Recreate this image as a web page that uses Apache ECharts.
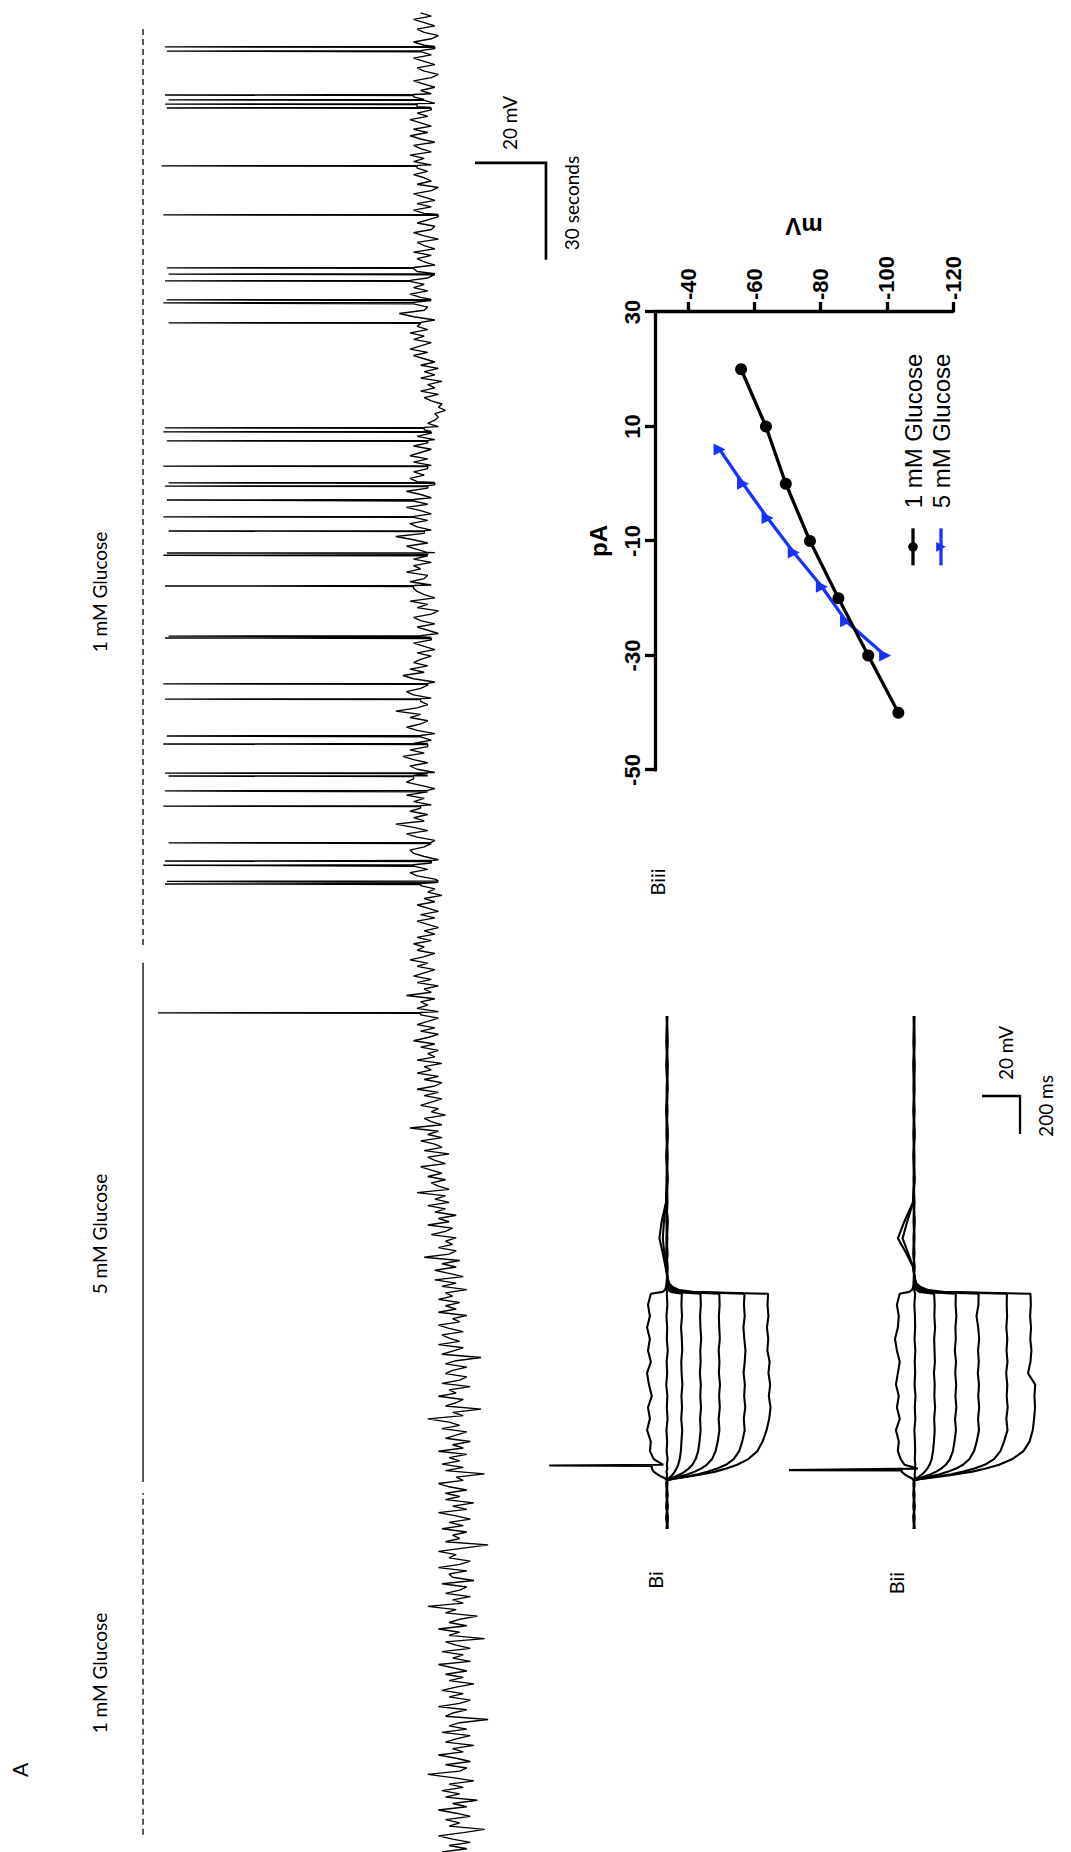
<!DOCTYPE html>
<html><head><meta charset="utf-8">
<script src="https://cdn.jsdelivr.net/npm/echarts@6/dist/echarts.min.js"></script>
<style>
html,body{margin:0;padding:0;background:#fff;width:1071px;height:1852px;overflow:hidden}
#rot{position:absolute;left:0;top:0;width:1852px;height:1071px;transform-origin:0 0;transform:translate(0,1852px) rotate(-90deg)}
#chart{width:1852px;height:1071px;background:#fff}
</style></head><body>
<div id="rot"><div id="chart"></div></div>
<script>
// ---------- Panel A: membrane potential (mV), one sample per second ----------
const sampleIntervalS = 1;
const traceMv = [
-59,-66,-61,-67,-62,-58,-65,-71,-61,-64, -60,-67,-63,-58,-66,-62,-69,-60,-64,-59,
-65,-61,-68,-62,-55,-64,-66,-60,-67,-63, -58,-65,-62,-68,-60,-63,-67,-59,-66,-61,
-64,-72,-60,-62,-66,-58,-64,-67,-61,-65, -59,-63,-68,-61,-65,-60,-66,-62,-58,-67,
-62,-65,-59,-67,-63,-60,-71,-61,-64,-58, -66,-61,-64,-69,-60,-63,-55,-65,-62,-67,
-60,-64,-66,-59,-68,-62,-61,-66,-58,-64, -67,-61,-63,-58,-65,-72,-60,-64,-62,-66,
-59,-65,-61,-67,-63,-58,-66,-62,-68,-60, -64,-60,-66,-61,-58,-65,-63,-71,-60,-65,
-59,-64,-61,-66,-58,-65,-62,-67,-60,-63, -66,-59,-64,-61,-55,-65,-62,-70,-60,-63,
-65,-58,-63,-61,-67,-59,-64,-66,-60,-62, -66,-60,-63,-70,-59,-62,-65,-58,-64,-61,
-59,-65,-61,-58,-64,-62,-66,-58,-63,-60, -64,-58,-62,-60,-66,-59,-63,-57,-65,-61,
-57,-63,-59,-64,-54,-61,-63,-58,-62,-60, -63,-56,-60,-62,-55,-61,-58,-63,-57,-60,
-55,-61,-57,-60,-52,-61,-58,-56,-60,-55, -59,-56,-53,-60,-57,-55,-61,-54,-59,-57,
-53,-59,-55,-58,-50,-59,-56,-54,-60,-56, -58,-53,-56,-59,-54,-58,-52,-57,-59,-54,
-58,-52,-56,-54,-59,-52,-57,-55,-58,-53, -57,-51,-55,-58,-53,-57,-52,-55,-58,-53,
-58,-52,-55,-53,-57,-49,-56,-54,-58,-52, -56,-51,-54,-57,-52,-55,-50,-54,-57,-52,
-54,-51,-56,-52,-57,-54,-58,-55,-52,-57, -53,-58,-55,-52,-57,-54,-59,-55,-57,-53,
-58,-57,-52,-50,-55,-51,-56,-58,-54,-51, -50,-54,-56,-57,-52,-49,-55,-51,-46,-54,
-51,-55,-50,-53,-56,-51,-54,-49,-55,-57, -53,-49,-51,-55,-57,-52,-50,-55,-51,-48,
-54,-50,-55,-51,-56,-53,-57,-52,-49,-53, -55,-50,-53,-46,-52,-55,-53,-56,-51,-49,
-53,-55,-57,-51,-48,-54,-50,-55,-51,-53, -56,-52,-57,-54,-51,-56,-53,-58,-55,-52,
-57,-53,-51,-56,-58,-52,-55,-50,-57,-54, -52,-51,-56,-50,-54,-55,-49,-53,-51,-56,
-51,-55,-57,-52,-49,-55,-51,-46,-54,-56, -52,-50,-55,-51,-56,-53,-49,-55,-51,-56,
-53,-49,-55,-57,-52,-50,-54,-51,-55,-56, -51,-55,-50,-53,-56,-51,-55,-57,-52,-56,
-54,-58,-55,-57,-58,-57,-60,-58,-59,-56, -54,-58,-53,-57,-55,-59,-53,-57,-54,-58,
-53,-57,-54,-51,-55,-50,-53,-56,-51,-54, -50,-55,-52,-53,-57,-51,-47,-54,-55,-51,
-56,-53,-50,-55,-51,-54,-50,-55,-57,-52, -51,-57,-54,-52,-56,-51,-57,-54,-52,-58,
-54,-51,-56,-57,-52,-55,-58,-54,-51,-56, -52,-57,-54,-51,-56,-58,-52,-56,-54,-51,
-55,-52,-56,-51,-54,-50,-56,-53,-51,-57, -53,-50,-55,-51,-56,-53,-50,-55,-52,-56,
-52,-57,-54,-51,-56,-53,-57,-54,-51,-56, -58,-54,-52,-57,-54,-51,-56,-53,-57,-54,
-51,-56,-58,-54,-52,-57,-54,-51,-56,-53
];
// action potentials: time (s) and peak (mV)
const spikeTimes = [259.6,299.5,300.3,305.3,306.6,312.2,323.6,328.3,332.9,333.8,342.8,345.3,356.7,361.4,375.6,376.2,391.7,401.2,401.9,408.7,413.1,418.3,422.6,423.6,428.8,436.6,439.4,440.6,473.1,479.3,480.2,486.1,488.2,490.1,506.5,521.7,539.6,540.8,542.1,543.6,557.2,558.5];
const spikePeaks = [21,19,18.5,19.5,19,18,19.5,19,18,19,19.5,18.5,19,19.5,19,18,19,19.5,18.5,18,19.5,18.5,19,18,19.5,18.5,19.5,19,18,19.5,18.5,19,18,18.5,19.5,20,18.5,19,18,19,18.5,19];
// glucose periods (s)
const periodLabels = ['1 mM Glucose','5 mM Glucose','1 mM Glucose'];
const periodConcMM = [1,5,1];
const periodStartS = [5.3,114.5,280.6];
const periodEndS = [111.1,275.1,564.3];
const scaleA_mV = 20, scaleA_s = 30;

// ---------- Panels Bi / Bii: current-clamp steps ----------
const bTimesMs = [0,60,120,180,240,258,266,276,288,302,318,338,368,410,460,520,580,640,700,760,820,880,940,1000,1060,1120,1180,1238,1248,1258,1272,1292,1330,1380,1450,1530,1620,1720,1840,1960,2080,2200,2320,2440,2560,2700];
const biTraces = [
[-65.3,-64.6,-65.4,-64.8,-65.2,-64.9,-64,-62,-60,-58,-57,-63,-58,-56,-56.5,-54.5,-56,-55,-57,-55.5,-54.5,-56.5,-55,-56,-54.5,-56,-55,-56.5,-62.7,-63.9,-64.4,-64.8,-65,-65.2,-64.7,-64.9,-65.3,-64.6,-65.1,-64.8,-65.4,-64.7,-65,-65.3,-64.8,-65.1],
[-65,-65.4,-64.7,-65.2,-64.8,-65.1,-65.3,-64.8,-65.1,-64.7,-65.2,-64.9,-65.3,-64.8,-65.1,-64.7,-65.3,-64.9,-65.2,-64.6,-65.1,-64.8,-65.4,-64.9,-65.1,-64.7,-65.2,-64.9,-65.1,-64.8,-65.2,-64.9,-65.1,-64.8,-65.2,-64.9,-65.3,-64.7,-65,-65.2,-64.8,-65.1,-64.9,-65.3,-64.8,-65],
[-64.8,-65.2,-64.9,-65.1,-64.7,-65,-65.8,-67,-68.1,-69.1,-70,-70.9,-71.7,-72.3,-72.6,-73,-72.5,-72.9,-72.6,-73.1,-72.7,-72.5,-73,-72.8,-72.4,-72.9,-72.6,-72.8,-67,-65.9,-65.4,-65.2,-65,-65.1,-64.8,-65.2,-64.9,-65.1,-64.8,-65.2,-65,-64.8,-65.1,-64.9,-65.2,-64.9],
[-65.1,-64.8,-65.2,-64.9,-65.1,-64.8,-66.8,-69.4,-72,-74.3,-76.4,-78.4,-80.1,-81.4,-82.1,-82.7,-82.4,-82.9,-82.5,-82.8,-82.3,-82.7,-82.5,-83,-82.6,-82.4,-82.8,-82.6,-69.4,-67.1,-66,-65.4,-65,-64.9,-65.2,-64.8,-65.1,-64.9,-65.3,-64.8,-65.1,-64.9,-65.2,-64.8,-65.1,-65],
[-64.9,-65.1,-64.8,-65.2,-64.9,-65.1,-67.8,-71.9,-76,-79.6,-82.9,-85.9,-88.7,-90.6,-91.7,-92.6,-92.2,-92.8,-92.4,-92.9,-92.3,-92.6,-92.2,-92.8,-92.5,-92.3,-92.7,-92.5,-71.9,-68.3,-66.6,-65.6,-65.1,-65.2,-64.8,-65,-64.7,-65.2,-64.9,-65.1,-64.8,-65.2,-64.9,-65.1,-64.8,-65.1],
[-65.2,-64.9,-65.1,-64.8,-65,-65.2,-69.1,-75.2,-81.3,-86.6,-91.5,-96,-100.1,-103,-104.6,-105.9,-105.4,-106.2,-105.6,-106,-105.3,-105.9,-106.3,-105.7,-105.2,-105.9,-105.5,-105.8,-75.2,-69.9,-67.5,-65.8,-65.2,-64.5,-63.6,-62.8,-63.4,-64.6,-65.1,-64.8,-65.2,-64.9,-65.1,-64.8,-65.2,-64.9],
[-65,-65.3,-64.8,-65.1,-64.9,-65.2,-69.8,-76.6,-83.5,-90.4,-96.2,-102,-107.8,-112.6,-115.3,-117.4,-118.8,-119.5,-118.6,-119.3,-118.4,-119,-117.8,-118.3,-117.6,-118.4,-117.9,-118.2,-78.5,-71.4,-68.2,-66.1,-65.2,-64.2,-62.8,-61,-62.2,-64.5,-65.2,-64.9,-65.1,-64.8,-65.2,-64.9,-65.1,-65]
];
const biiTraces = [
[-65.2,-64.7,-65.3,-64.9,-65.1,-64.8,-64,-62,-60,-58.5,-67,-60,-58,-56.5,-57,-55.5,-57.5,-56,-57,-55.5,-56.5,-57.5,-56,-55,-56.5,-57,-56,-57.5,-62.5,-63.9,-64.5,-64.8,-64.9,-65.2,-64.7,-65,-65.3,-64.8,-65.1,-64.9,-65.2,-64.8,-65,-65.3,-64.9,-65.1],
[-65.1,-64.8,-65.2,-64.9,-65.1,-64.8,-65.2,-65.5,-65.3,-65.6,-65.4,-65.7,-65.4,-65.6,-65.5,-65.2,-65.7,-65.4,-65.8,-65.3,-65.6,-65.4,-65.7,-65.3,-65.6,-65.5,-65.2,-65.6,-65.3,-65.1,-65,-64.9,-65.1,-64.8,-65.2,-64.9,-65.1,-64.8,-65.2,-65,-64.8,-65.1,-64.9,-65.2,-64.8,-65],
[-64.9,-65.2,-64.8,-65.1,-64.9,-65.1,-66.1,-67.7,-69.3,-70.7,-72,-73.2,-74.3,-75,-75.5,-75.9,-75.6,-76.1,-75.7,-75.9,-75.5,-76,-75.8,-75.6,-76.1,-75.7,-75.9,-75.6,-67.7,-66.3,-65.6,-65.2,-65,-65.1,-64.9,-65.2,-64.8,-65.1,-64.9,-65.2,-64.8,-65.1,-65,-64.8,-65.2,-64.9],
[-65.1,-64.9,-65.2,-64.8,-65,-65.2,-67.2,-70.5,-73.8,-76.7,-79.3,-81.7,-83.9,-85.5,-86.3,-87.1,-86.6,-87.3,-86.8,-87.2,-86.7,-87.1,-86.5,-87,-86.8,-87.3,-86.9,-87,-70.5,-67.6,-66.3,-65.5,-65.1,-64.9,-65.1,-64.8,-65.2,-64.9,-65.1,-64.8,-65.2,-64.9,-65.1,-64.8,-65,-65.2],
[-64.8,-65.1,-64.9,-65.2,-64.8,-65.1,-68.4,-73.5,-78.6,-83,-87.1,-90.8,-94.2,-96.6,-98,-99.2,-98.7,-99.3,-98.8,-99.2,-98.6,-99.1,-98.7,-99.3,-98.8,-97.9,-98.9,-99,-73.5,-69.1,-67,-65.7,-65.1,-65.2,-64.8,-65.1,-64.9,-65.2,-64.8,-65.1,-64.9,-65.2,-64.8,-65.1,-64.9,-65],
[-65,-65.2,-64.8,-65.1,-64.9,-65.2,-69.9,-77.2,-84.6,-90.9,-96.8,-102.2,-107.1,-110.5,-112.4,-114.2,-113.6,-114.3,-113.8,-114.1,-113.5,-114.2,-113.7,-114.1,-113.6,-114,-113.8,-113.9,-77.2,-70.9,-67.9,-66,-65.2,-64.5,-62,-59,-61.5,-64.5,-65.1,-64.8,-65.2,-64.9,-65.1,-64.8,-65.2,-64.9],
[-65.2,-64.9,-65.1,-64.8,-65.2,-64.9,-70.8,-79.1,-87.4,-95.7,-102.8,-109.8,-116.8,-122.6,-125.8,-127.5,-128.2,-128.7,-128.4,-128.8,-125,-126.3,-126.8,-126.2,-126.6,-126.1,-126.5,-126.3,-80.5,-72.4,-68.7,-66.3,-65.2,-64.5,-61,-56.5,-60,-64.5,-65.2,-64.9,-65.1,-64.8,-65.2,-64.9,-65.1,-65]
];
const biSpike = [334, -3];     // [ms, mV]
const biiSpike = [310, 0.8];
const scaleB_mV = 20, scaleB_ms = 200;

// ---------- Panel Biii: I-V relation ----------
const ivPa1mM = [20,10,0,-10,-20,-30,-40];
const ivMv1mM = [-56.0,-63.5,-69.5,-76.8,-85.4,-94.4,-103.5];
const ivPa5mM = [6,0,-6,-12,-18,-24,-30];
const ivMv5mM = [-49.5,-56.6,-64.0,-71.9,-80.4,-87.7,-99.5];
const ivMvTicks = [-40,-60,-80,-100,-120];

// ---------- build ----------
function traceData() {
  const d = traceMv.map((v, i) => [i * sampleIntervalS, v]);
  spikeTimes.forEach((ts, k) => {
    const base = traceMv[Math.floor(ts / sampleIntervalS)];
    d.push([ts - 0.15, base], [ts, spikePeaks[k]], [ts + 0.15, base]);
  });
  d.sort((a, b) => a[0] - b[0]);
  return d;
}
function bData(tr, spike) {
  const d = bTimesMs.map((t, i) => [t, tr[i]]);
  if (spike) {
    let iPrev = 0;
    bTimesMs.forEach((t, i) => { if (t < spike[0]) iPrev = i; });
    d.push([spike[0] - 1.5, tr[iPrev]], [spike[0], spike[1]]);
  }
  d.sort((a, b) => a[0] - b[0]);
  return d;
}

const series = [];
series.push({type:'line', xAxisIndex:0, yAxisIndex:0, data: traceData(), showSymbol:false, symbol:'none',
  lineStyle:{color:'#000', width:1.35}, silent:true, z:3});
const barLevel = 25.2;
periodLabels.forEach((lab, i) => {
  series.push({type:'line', xAxisIndex:0, yAxisIndex:0, symbol:'none', silent:true,
    data:[[periodStartS[i], barLevel],[periodEndS[i], barLevel]],
    lineStyle:{color:'#000', width:1.3, type: periodConcMM[i] === 1 ? [6,4] : 'solid'}});
});
// scale bar A (anchored at right end)
const sbAend = 522.6, sbAbase = -88.3;
series.push({type:'line', xAxisIndex:0, yAxisIndex:0, symbol:'none', silent:true,
  data:[[sbAend, sbAbase + scaleA_mV],[sbAend, sbAbase],[sbAend - scaleA_s, sbAbase]],
  lineStyle:{color:'#000', width:2.7, cap:'butt', join:'miter'}});
// B traces
biTraces.forEach((tr, k) => series.push({type:'line', xAxisIndex:1, yAxisIndex:1, symbol:'none', silent:true,
  data: bData(tr, k === 0 ? biSpike : null), lineStyle:{color:'#000', width:2.1}}));
biiTraces.forEach((tr, k) => series.push({type:'line', xAxisIndex:2, yAxisIndex:2, symbol:'none', silent:true,
  data: bData(tr, k === 0 ? biiSpike : null), lineStyle:{color:'#000', width:2.1}}));
const sbBend = 2279, sbBbase = -120.8;
series.push({type:'line', xAxisIndex:2, yAxisIndex:2, symbol:'none', silent:true,
  data:[[sbBend, sbBbase + scaleB_mV],[sbBend, sbBbase],[sbBend - scaleB_ms, sbBbase]],
  lineStyle:{color:'#000', width:2.3, cap:'butt', join:'miter'}});
// IV
series.push({name:'1 mM Glucose', type:'line', xAxisIndex:3, yAxisIndex:3,
  data: ivPa1mM.map((p, i) => [p, ivMv1mM[i]]), symbol:'circle', symbolSize:12,
  itemStyle:{color:'#000'}, lineStyle:{color:'#000', width:3.3}, z:4});
series.push({name:'5 mM Glucose', type:'line', xAxisIndex:3, yAxisIndex:3,
  data: ivPa5mM.map((p, i) => [p, ivMv5mM[i]]), symbol:'triangle', symbolRotate:180, symbolSize:12,
  itemStyle:{color:'#1733ff'}, lineStyle:{color:'#1733ff', width:3.3}, z:3});

const boldLab = {color:'#000', fontSize:22, fontWeight:'bold', fontFamily:'Liberation Sans, Arial'};
const texts = [
  ['A', 82, 19, 21], ['1 mM Glucose', 179, 99, 19], ['5 mM Glucose', 618, 99, 19], ['1 mM Glucose', 1260, 99, 19],
  ['20 mV', 1729, 509, 19], ['30 seconds', 1649, 571, 19],
  ['Bi', 272, 655, 20], ['Bii', 269, 896, 20], ['Biii', 970, 657, 20],
  ['20 mV', 799, 1005, 19], ['200 ms', 746, 1045, 19]
];

const option = {
  animation:false,
  backgroundColor:'#fff',
  grid:[
    {left:0, top:72.75, width:1852, height:479.25},
    {left:323, top:534, width:513, height:266},
    {left:323, top:781, width:513, height:266},
    {left:1082, top:655, width:458, height:298}
  ],
  xAxis:[
    {gridIndex:0, type:'value', min:0, max:573, show:false},
    {gridIndex:1, type:'value', min:0, max:2700, show:false},
    {gridIndex:2, type:'value', min:0, max:2700, show:false},
    {gridIndex:3, type:'value', position:'top', min:-50, max:30, interval:20,
      axisLine:{show:true, onZero:false, lineStyle:{color:'#000', width:3.3}},
      axisTick:{show:true, length:10, lineStyle:{color:'#000', width:3.3}},
      axisLabel:Object.assign({margin:12, showMinLabel:true, showMaxLabel:true}, boldLab),
      splitLine:{show:false},
      name:'pA', nameLocation:'middle', nameGap:45,
      nameTextStyle:{color:'#000', fontSize:24, fontWeight:'bold', fontFamily:'Liberation Sans, Arial'}}
  ],
  yAxis:[
    {gridIndex:0, type:'value', min:-90, max:45, show:false},
    {gridIndex:1, type:'value', min:-135, max:5, show:false},
    {gridIndex:2, type:'value', min:-135, max:5, show:false},
    {gridIndex:3, type:'value', position:'right', min:-120, max:-30,
      axisLine:{show:true, onZero:false, lineStyle:{color:'#000', width:3.3}},
      axisTick:{show:true, length:10, customValues:ivMvTicks, lineStyle:{color:'#000', width:3.3}},
      axisLabel:Object.assign({margin:12, customValues:ivMvTicks,
        formatter:(v) => ivMvTicks.indexOf(v) >= 0 ? String(v) : ''}, boldLab),
      splitLine:{show:false},
      name:'mV', nameLocation:'middle', nameGap:74, nameRotate:90,
      nameTextStyle:{color:'#000', fontSize:24, fontWeight:'bold', fontFamily:'Liberation Sans, Arial'}}
  ],
  legend:{data:['1 mM Glucose','5 mM Glucose'], orient:'vertical', left:1285, top:901,
    itemWidth:37, itemHeight:12, itemGap:4, padding:0, selectedMode:false,
    lineStyle:{width:3.3},
    textStyle:{color:'#000', fontSize:24, fontFamily:'Liberation Sans, Arial', padding:[0,0,0,15]}},
  graphic: texts.map(t => ({type:'text', x:t[1], y:t[2], silent:true,
    style:{text:t[0], fontSize:t[3], fontFamily:'Lato', fill:'#000', align:'center', verticalAlign:'middle'}})),
  series: series
};
const chart = echarts.init(document.getElementById('chart'), null, {renderer:'svg', width:1852, height:1071});
chart.setOption(option);
</script></body></html>
